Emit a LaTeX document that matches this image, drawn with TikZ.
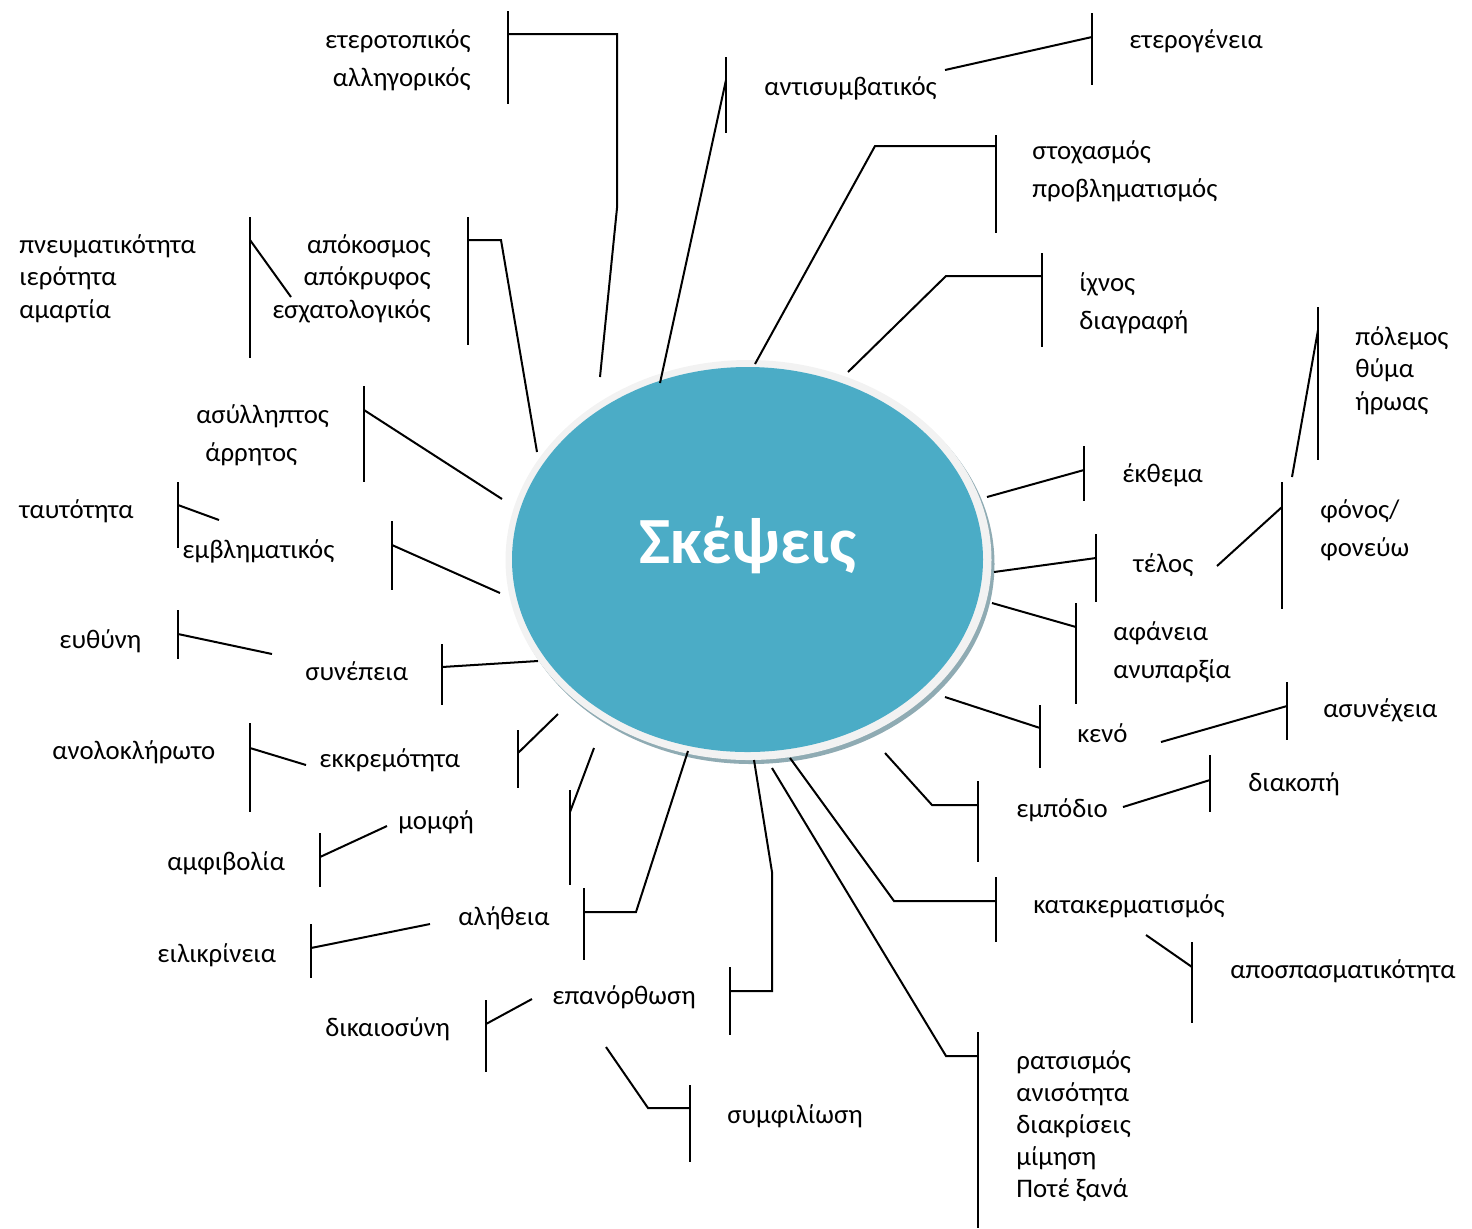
\documentclass[tikz,border=0pt]{standalone}
\usepackage{fontspec}
\setmainfont{Carlito}
\usetikzlibrary{shapes.geometric}
\definecolor{hubfill}{HTML}{4BACC6}
\definecolor{hubring}{HTML}{F2F2F2}
\definecolor{hubshade}{HTML}{8FABB3}
% stacked label lines, first row on the node baseline
\newcommand\stk[2]{\begin{tabular}[t]{@{}#1@{}}#2\end{tabular}}
% bracket bar: name, x, top y, bottom y, y where its connector leaves
\newcommand\brk[5]{%
  \coordinate (#1-t) at (#2,#3);
  \coordinate (#1-b) at (#2,#4);
  \coordinate (#1-j) at (#2,#5);
  \draw[bar] (#1-t) -- (#1-b);}
\tikzset{
  lbl/.style={inner sep=0pt, font=\fontsize{13.4}{16.25}\selectfont},
  lblw/.style={lbl, anchor=base west},
  lble/.style={lbl, anchor=base east},
  loose/.style={font=\fontsize{13.4}{19}\selectfont},
  bar/.style={line width=1pt},
  con/.style={line width=1pt, line join=miter},
  hubshape/.style={ellipse, inner sep=0pt, draw=none},
}
\begin{document}
\begin{tikzpicture}[x=0.5pt, y=-0.5pt]
\useasboundingbox (0,0) rectangle (1472,1228);

% central ellipse with its light rim and shadow
\node[hubshape, fill=hubshade, minimum width=243pt, minimum height=200pt] (hubshadow) at (751.5,564) {};
\node[hubshape, fill=hubring, minimum width=243pt, minimum height=200pt] (hubring) at (748.5,560) {};
\node[hubshape, fill=hubfill, minimum width=235.5pt, minimum height=192.5pt] (hub) at (747.5,559.5) {};
\node[inner sep=0pt, anchor=base, text=white, font=\fontsize{33}{40}\selectfont\bfseries] (title) at (748,563) {Σκέψεις};

% ---------------- labels ----------------
\node[lble, loose] (l1) at (471,48) {\stk{r}{ετεροτοπικός\\αλληγορικός}};
\node[lblw] (l2) at (764,95) {αντισυμβατικός};
\node[lblw] (l3) at (1129,48) {ετερογένεια};
\node[lblw, loose] (l4) at (1032,159) {\stk{l}{στοχασμός\\προβληματισμός}};
\node[lblw, loose] (l5) at (1079,291) {\stk{l}{ίχνος\\διαγραφή}};
\node[lblw] (l6) at (19,253) {\stk{l}{πνευματικότητα\\ιερότητα\\αμαρτία}};
\node[lble] (l7) at (431,253) {\stk{r}{απόκοσμος\\απόκρυφος\\εσχατολογικός}};
\node[lblw] (l8) at (1355,345) {\stk{l}{πόλεμος\\θύμα\\ήρωας}};
\node[lblw, loose] (l9) at (196,423) {\stk{l}{ασύλληπτος\\\hspace{4.5pt}άρρητος}};
\node[lblw] (l10) at (1122,482) {έκθεμα};
\node[lblw] (l11) at (19,518) {ταυτότητα};
\node[lblw, loose] (l12) at (1320,518) {\stk{l}{φόνος/\\φονεύω}};
\node[lblw] (l13) at (182,558) {εμβληματικός};
\node[lblw] (l14) at (1133,572) {τέλος};
\node[lblw] (l15) at (59,648) {ευθύνη};
\node[lblw, loose] (l16) at (1113,640) {\stk{l}{αφάνεια\\ανυπαρξία}};
\node[lblw] (l17) at (305,680) {συνέπεια};
\node[lblw] (l18) at (1323,717) {ασυνέχεια};
\node[lblw] (l19) at (1077,742) {κενό};
\node[lblw] (l20) at (52,759) {ανολοκλήρωτο};
\node[lblw] (l21) at (319,767) {εκκρεμότητα};
\node[lblw] (l22) at (1248,791) {διακοπή};
\node[lblw] (l23) at (1016,817) {εμπόδιο};
\node[lblw] (l24) at (398,829) {μομφή};
\node[lblw] (l25) at (167,870) {αμφιβολία};
\node[lblw] (l26) at (1033,913) {κατακερματισμός};
\node[lblw] (l27) at (458,925) {αλήθεια};
\node[lblw] (l28) at (157,962) {ειλικρίνεια};
\node[lblw] (l29) at (1230,978) {αποσπασματικότητα};
\node[lblw] (l30) at (552,1004) {επανόρθωση};
\node[lblw] (l31) at (325,1036) {δικαιοσύνη};
\node[lblw, font=\fontsize{13.4}{16}\selectfont] (l32) at (1016,1069) {\stk{l}{ρατσισμός\\ανισότητα\\διακρίσεις\\μίμηση\\Ποτέ ξανά}};
\node[lblw] (l33) at (727,1123) {συμφιλίωση};

% ---------------- bracket bars ----------------
\brk{b1}{508}{11}{104}{34}
\brk{b2}{726}{57}{133}{80}
\brk{b3}{1092}{13}{85}{37}
\brk{b4}{996}{135}{233}{146}
\brk{b5}{1042}{253}{347}{276}
\brk{b6}{250}{217}{358}{240}
\brk{b7}{468}{217}{345}{240}
\brk{b8}{1318}{307}{460}{330}
\brk{b9}{364}{386}{482}{410}
\brk{b10}{1084}{446}{501}{470}
\brk{b11}{178}{482}{548}{505}
\brk{b12}{1282}{482}{609}{507}
\brk{b13}{392}{521}{590}{545}
\brk{b14}{1096}{534}{602}{558}
\brk{b15}{178}{610}{659}{634}
\brk{b16}{1076}{603}{704}{627}
\brk{b17}{442}{644}{705}{667}
\brk{b18}{1287}{682}{740}{706}
\brk{b19}{1040}{705}{768}{728}
\brk{b20}{250}{723}{812}{748}
\brk{b21}{518}{730}{788}{753}
\brk{b22}{1210}{755}{812}{780}
\brk{b23}{978}{781}{862}{805}
\brk{b24}{570}{790}{885}{812}
\brk{b25}{320}{833}{887}{857}
\brk{b26}{996}{877}{942}{901}
\brk{b27}{584}{888}{960}{912}
\brk{b28}{311}{924}{978}{948}
\brk{b29}{1192}{942}{1023}{967}
\brk{b30}{730}{967}{1035}{991}
\brk{b31}{486}{1000}{1072}{1024}
\brk{b32}{978}{1032}{1228}{1056}
\brk{b33}{690}{1085}{1162}{1108}

% ---------------- connector ends ----------------
\coordinate (e1) at (600,377);
\coordinate (e2) at (660,383);
\coordinate (e3) at (945,70);
\coordinate (e4) at (755,364);
\coordinate (e5) at (848,372);
\coordinate (e6) at (291,297);
\coordinate (e7) at (537,452);
\coordinate (e8) at (1292,477);
\coordinate (e9) at (502,499);
\coordinate (e10) at (987,497);
\coordinate (e11) at (219,520);
\coordinate (e12) at (1217,566);
\coordinate (e13) at (500,593);
\coordinate (e14) at (994,572);
\coordinate (e15) at (272,654);
\coordinate (e16) at (992,603);
\coordinate (e17) at (538,661);
\coordinate (e18) at (1161,742);
\coordinate (e19) at (945,697);
\coordinate (e20) at (306,765);
\coordinate (e21) at (558,714);
\coordinate (e22) at (1123,807);
\coordinate (e23) at (885,753);
\coordinate (e24) at (594,748);
\coordinate (e25) at (387,826);
\coordinate (e26) at (790,758);
\coordinate (e27) at (688,751);
\coordinate (e28) at (430,924);
\coordinate (e29) at (1146,935);
\coordinate (e30) at (754,760);
\coordinate (e31) at (532,999);
\coordinate (e32) at (772,768);
\coordinate (e33) at (606,1047);

% ---------------- connectors ----------------
\draw[con] (b1-j) -- (617,34) -- (617,208) -- (e1);
\draw[con] (b2-j) -- (e2);
\draw[con] (b3-j) -- (e3);
\draw[con] (b4-j) -- (875,146) -- (e4);
\draw[con] (b5-j) -- (946,276) -- (e5);
\draw[con] (b6-j) -- (e6);
\draw[con] (b7-j) -- (501,240) -- (e7);
\draw[con] (b8-j) -- (e8);
\draw[con] (b9-j) -- (e9);
\draw[con] (b10-j) -- (e10);
\draw[con] (b11-j) -- (e11);
\draw[con] (b12-j) -- (e12);
\draw[con] (b13-j) -- (e13);
\draw[con] (b14-j) -- (e14);
\draw[con] (b15-j) -- (e15);
\draw[con] (b16-j) -- (e16);
\draw[con] (b17-j) -- (e17);
\draw[con] (b18-j) -- (e18);
\draw[con] (b19-j) -- (e19);
\draw[con] (b20-j) -- (e20);
\draw[con] (b21-j) -- (e21);
\draw[con] (b22-j) -- (e22);
\draw[con] (b23-j) -- (932,805) -- (e23);
\draw[con] (b24-j) -- (e24);
\draw[con] (b25-j) -- (e25);
\draw[con] (b26-j) -- (894,901) -- (e26);
\draw[con] (b27-j) -- (636,912) -- (e27);
\draw[con] (b28-j) -- (e28);
\draw[con] (b29-j) -- (e29);
\draw[con] (b30-j) -- (772,991) -- (772,872) -- (e30);
\draw[con] (b31-j) -- (e31);
\draw[con] (b32-j) -- (946,1056) -- (e32);
\draw[con] (b33-j) -- (648,1108) -- (e33);
\end{tikzpicture}
\end{document}
